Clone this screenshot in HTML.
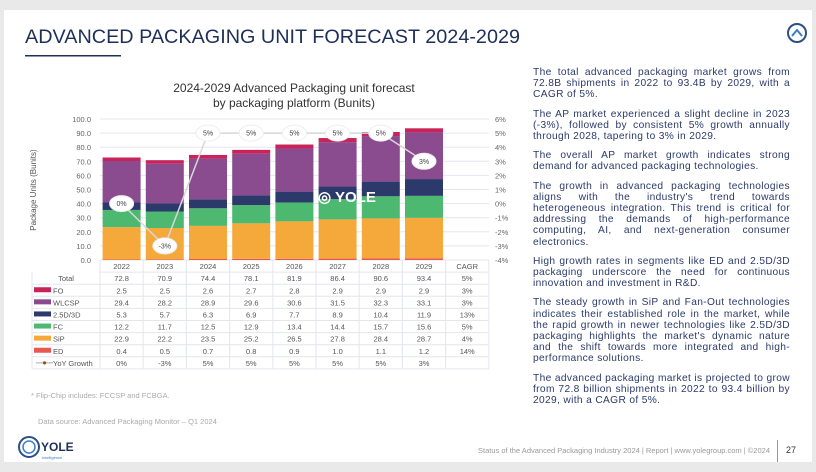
<!DOCTYPE html>
<html><head><meta charset="utf-8">
<style>
body{margin:0;width:816px;height:472px;background:#e9e9e9;font-family:"Liberation Sans",sans-serif;overflow:hidden;position:relative}
#card{position:absolute;left:4px;top:10px;width:808px;height:452px;background:#fff}
#txt{position:absolute;left:533px;top:67px;width:257px;color:#2b3a6b;font-size:10.2px;line-height:11.2px;letter-spacing:0.35px;text-align:justify}
#txt p{margin:0 0 8px 0}
svg text{font-family:"Liberation Sans",sans-serif}
</style></head><body>
<div id="card"></div>
<svg width="816" height="472" style="position:absolute;left:0;top:0" id="svg">
<text x="25" y="43" font-size="19.5" fill="#1e2f5a" textLength="495" lengthAdjust="spacingAndGlyphs">ADVANCED PACKAGING UNIT FORECAST 2024-2029</text>
<rect x="25" y="55" width="96" height="1.5" fill="#1e2f5a"/>
<g><circle cx="797" cy="33" r="9" fill="none" stroke="#2b4f86" stroke-width="2"/><path d="M792 36 L797 30 L802 36" fill="none" stroke="#3a7fc4" stroke-width="2"/></g>
<text x="294" y="92" font-size="12" fill="#333" text-anchor="middle">2024-2029 Advanced Packaging unit forecast</text>
<text x="294" y="107" font-size="12" fill="#333" text-anchor="middle">by packaging platform (Bunits)</text>
<text transform="translate(36,190) rotate(-90)" font-size="8" fill="#555" text-anchor="middle">Package Units (Bunits)</text>
<g id="chart"></g>
<text x="31" y="398" font-size="7.5" fill="#aaa">* Flip-Chip includes: FCCSP and FCBGA.</text>
<text x="38" y="424" font-size="7.5" fill="#aaa">Data source: Advanced Packaging Monitor – Q1 2024</text>
<g><circle cx="29" cy="447" r="10" fill="none" stroke="#2b4f86" stroke-width="2"/><circle cx="29" cy="447" r="6" fill="none" stroke="#3a7fc4" stroke-width="1.5"/><text x="41" y="451" font-size="12" font-weight="bold" fill="#1e2f5a">YOLE</text><text x="42" y="459" font-size="4" fill="#3a7fc4">Intelligence</text></g>
<text x="770" y="453" font-size="7.5" fill="#999" text-anchor="end">Status of the Advanced Packaging Industry 2024 | Report | www.yolegroup.com | ©2024</text>
<rect x="777" y="440" width="1" height="22" fill="#999"/>
<text x="786" y="453" font-size="9" fill="#333">27</text>
</svg>
<div id="txt">
<p>The total advanced packaging market grows from 72.8B shipments in 2022 to 93.4B by 2029, with a CAGR of 5%.</p>
<p>The AP market experienced a slight decline in 2023 (-3%), followed by consistent 5% growth annually through 2028, tapering to 3% in 2029.</p>
<p>The overall AP market growth indicates strong demand for advanced packaging technologies.</p>
<p>The growth in advanced packaging technologies aligns with the industry's trend towards heterogeneous integration. This trend is critical for addressing the demands of high-performance computing, AI, and next-generation consumer electronics.</p>
<p>High growth rates in segments like ED and 2.5D/3D packaging underscore the need for continuous innovation and investment in R&amp;D.</p>
<p>The steady growth in SiP and Fan-Out technologies indicates their established role in the market, while the rapid growth in newer technologies like 2.5D/3D packaging highlights the market's dynamic nature and the shift towards more integrated and high-performance solutions.</p>
<p>The advanced packaging market is projected to grow from 72.8 billion shipments in 2022 to 93.4 billion by 2029, with a CAGR of 5%.</p>
</div>
<script>
const years=["2022","2023","2024","2025","2026","2027","2028","2029"];
const ED=[0.4,0.5,0.7,0.8,0.9,1.0,1.1,1.2];
const SiP=[22.9,22.2,23.5,25.2,26.5,27.8,28.4,28.7];
const FC=[12.2,11.7,12.5,12.9,13.4,14.4,15.7,15.6];
const D25=[5.3,5.7,6.3,6.9,7.7,8.9,10.4,11.9];
const WLCSP=[29.4,28.2,28.9,29.6,30.6,31.5,32.3,33.1];
const FO=[2.5,2.5,2.6,2.7,2.8,2.9,2.9,2.9];
const totals=[72.8,70.9,74.4,78.1,81.9,86.4,90.6,93.4];
const yoy=[0,-3,5,5,5,5,5,3];
const cagr=["5%","3%","3%","13%","5%","4%","14%",""];
const leftTicks=[0,10,20,30,40,50,60,70,80,90,100];
const rightTicks=[-4,-3,-2,-1,0,1,2,3,4,5,6];
const NS="http://www.w3.org/2000/svg";
const g=document.getElementById('chart');
const X0=100,COL=43.2,Y0=260,Y1=119;
const y=v=>Y0-(v/100)*(Y0-Y1);
const yr=v=>Y0-((v+4)/10)*(Y0-Y1);
const xc=i=>X0+COL*i+COL/2;
function el(t,a,txt){const e=document.createElementNS(NS,t);for(const k in a)e.setAttribute(k,a[k]);if(txt!==undefined)e.textContent=txt;g.appendChild(e);return e;}
leftTicks.forEach(v=>{
 const l=el('line',{x1:X0,x2:489,y1:y(v),y2:y(v),stroke:'#e6e6ee','stroke-width':1});
 
 
 const t=el('text',{x:91,y:y(v)+3,'font-size':7.5,fill:'#666','text-anchor':'end'},v.toFixed(1));
 
 
});
rightTicks.forEach(v=>{
 const t=el('text',{x:495,y:yr(v)+3,'font-size':7.5,fill:'#666'},v+'%');
 
 
});
const series=[["ed",ED,"#e8584f"],["sip",SiP,"#f6a93b"],["fc",FC,"#4db86f"],["d25",D25,"#2b3a6b"],["wlcsp",WLCSP,"#8a4b8f"],["fo",FO,"#c8245a"]];
years.forEach((yrs,i)=>{
 let base=0;
 series.forEach(([n,arr,c])=>{
  const r=el('rect',{x:xc(i)-19,y:y(base+arr[i]),width:38,height:y(base)-y(base+arr[i]),fill:c});
  
  
  base+=arr[i];
 });
});
const wm=el('text',{x:318,y:202,'font-size':15,'font-weight':'bold',fill:'#fff'},'◎ YOLE');


const pl=el('polyline',{points:yoy.map((v,i)=>xc(i)+','+yr(v)).join(' '),fill:'none',stroke:'#d8d8d8','stroke-width':1.5});


yoy.forEach((v,i)=>{
 const e=el('ellipse',{cx:xc(i),cy:yr(v),rx:12,ry:8,fill:'#fff',stroke:'#eee'});
 
 
 const t=el('text',{x:xc(i),y:yr(v)+2.5,'font-size':7,fill:'#444','text-anchor':'middle'},v+'%');
 
 
});
const rows=[["Total",totals,null],["FO",FO,"#c8245a"],["WLCSP",WLCSP,"#8a4b8f"],["2.5D/3D",D25,"#2b3a6b"],["FC",FC,"#4db86f"],["SiP",SiP,"#f6a93b"],["ED",ED,"#e8584f"],["YoY Growth",yoy,"line"]];
const RT=260,RH=12.1;
const hdr=years.concat(["CAGR"]);
hdr.forEach((h,i)=>{
 const t=el('text',{x:xc(i),y:RT+RH/2+3,'font-size':7.5,fill:'#555','text-anchor':'middle'},h);
 
 
});
for(let r=0;r<=8;r++){
 const l=el('line',{x1:r==0?X0:32,x2:489,y1:RT+RH*(r+1),y2:RT+RH*(r+1),stroke:'#e3e6ef'});
 
 
}
for(let c=0;c<=9;c++){
 const l=el('line',{x1:X0+COL*c,x2:X0+COL*c,y1:RT,y2:RT+RH*9,stroke:'#e3e6ef'});
 
 
}
const lb=el('line',{x1:32,x2:32,y1:RT+RH,y2:RT+RH*9,stroke:'#e3e6ef'});


rows.forEach((row,r)=>{
 const cy=RT+RH*(r+1)+RH/2+3;
 const [name,arr,col]=row;
 if(col==="line"){
  const m=el('line',{x1:36,x2:53,y1:cy-3,y2:cy-3,stroke:'#aaa'});
  const d=el('circle',{cx:44.5,cy:cy-3,r:1.6,fill:'#8a5a1a'});
 }else if(col){
  const s=el('rect',{x:34,y:cy-6,width:17,height:5,fill:col});
 }
 const lt=el('text',{x:name==="Total"?66:53,y:cy,'font-size':7.5,fill:'#555','text-anchor':name==="Total"?'middle':'start'},name);
 
 
 arr.forEach((v,i)=>{
  const t=el('text',{x:xc(i),y:cy,'font-size':7.5,fill:'#555','text-anchor':'middle'},name==="YoY Growth"?v+'%':v.toFixed(1));
  
  
 });
 const cv=cagr[r];
 if(cv){const t=el('text',{x:xc(8),y:cy,'font-size':7.5,fill:'#555','text-anchor':'middle'},cv);
 
 }
});
</script>
</body></html>
